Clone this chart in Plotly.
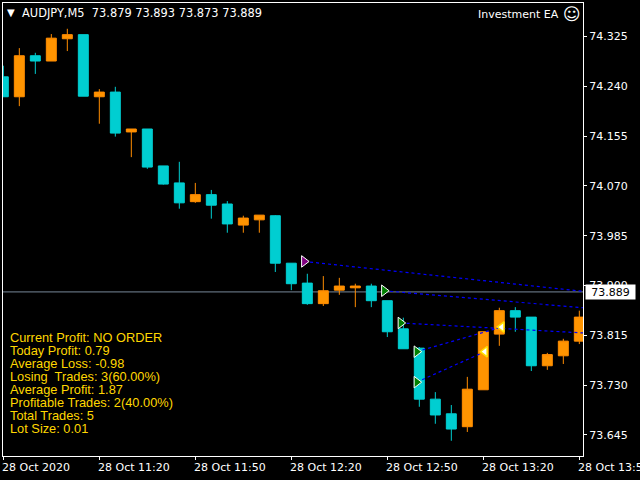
import plotly.graph_objects as go

DAY = "2020-10-28 "
times = ["10:50","10:55","11:00","11:05","11:10","11:15","11:20","11:25","11:30","11:35",
         "11:40","11:45","11:50","11:55","12:00","12:05","12:10","12:15","12:20","12:25",
         "12:30","12:35","12:40","12:45","12:50","12:55","13:00","13:05","13:10","13:15",
         "13:20","13:25","13:30","13:35","13:40","13:45","13:50"]
opens = [74.256,74.222,74.292,74.283,74.321,74.328,74.222,74.230,74.162,74.167,
         74.104,74.075,74.043,74.055,74.039,74.003,74.012,74.019,73.938,73.904,
         73.869,73.892,73.896,73.899,73.874,73.826,73.793,73.706,73.681,73.659,
         73.722,73.817,73.857,73.846,73.763,73.780,73.805]
highs = [74.275,74.305,74.297,74.329,74.338,74.328,74.235,74.239,74.167,74.167,
         74.104,74.111,74.075,74.063,74.044,74.019,74.020,74.020,73.938,73.920,
         73.916,73.913,73.903,73.903,73.874,73.845,73.795,73.718,73.696,73.744,
         73.821,73.862,73.863,73.846,73.785,73.809,73.857]
lows = [74.222,74.206,74.261,74.283,74.300,74.223,74.176,74.154,74.119,74.099,
        74.072,74.031,74.041,74.014,73.990,73.990,73.990,73.923,73.892,73.867,
        73.865,73.884,73.863,73.863,73.812,73.792,73.693,73.664,73.635,73.650,
        73.722,73.797,73.821,73.754,73.756,73.766,73.800]
closes = [74.222,74.292,74.283,74.322,74.328,74.223,74.230,74.160,74.167,74.102,
          74.073,74.041,74.055,74.037,74.005,74.015,74.020,73.938,73.903,73.869,
          73.891,73.899,73.899,73.874,73.821,73.792,73.706,73.679,73.655,73.723,
          73.821,73.857,73.846,73.763,73.782,73.805,73.846]

trade_open_t = ["12:24:00","12:49:00","12:54:10","12:59:10","12:59:10"]
trade_open_p = [73.941,73.891,73.836,73.787,73.735]
trade_end_t = ["13:51:09","13:51:09","13:51:09","13:25:45","13:20:30"]
trade_end_p = [73.890,73.862,73.819,73.829,73.787]
trade_colors = ["#800080","#008000","#008000","#008000","#008000"]
closed_t = ["13:25:45","13:20:30"]
closed_p = [73.829,73.787]

price_ticks = [74.325,74.240,74.155,74.070,73.985,73.900,73.815,73.730,73.645]
time_ticks = ["10:50","11:20","11:50","12:20","12:50","13:20","13:50"]
time_labels = ["28 Oct 2020","28 Oct 11:20","28 Oct 11:50","28 Oct 12:20",
               "28 Oct 12:50","28 Oct 13:20","28 Oct 13:50"]
stats = ["Current Profit: NO ORDER","Today Profit: 0.79","Average Loss: -0.98",
         "Losing  Trades: 3(60.00%)","Average Profit: 1.87",
         "Profitable Trades: 2(40.00%)","Total Trades: 5","Lot Size: 0.01"]
last_price = 73.889
header = "AUDJPY,M5  73.879 73.893 73.873 73.889"

W, H = 640, 480
L, R, T, B = 3, 583, 3, 456
TICK_FONT = dict(family="DejaVu Sans", size=11, color="#ffffff")
GOLD = "#FFD700"
px = lambda x: (x - L) / (R - L)
py = lambda y: 1 - (y - T) / (B - T)

fig = go.Figure()
fig.add_trace(go.Candlestick(
    x=[DAY + t for t in times], open=opens, high=highs, low=lows, close=closes,
    increasing=dict(line=dict(color="#FF8C00", width=1), fillcolor="#FF9400"),
    decreasing=dict(line=dict(color="#00CED1", width=1), fillcolor="#00CED1"),
    whiskerwidth=0, showlegend=False, hoverinfo="skip"))

for i in range(len(trade_open_t)):
    fig.add_trace(go.Scatter(
        x=[DAY + trade_open_t[i], DAY + trade_end_t[i]],
        y=[trade_open_p[i], trade_end_p[i]], mode="lines",
        line=dict(color="#0000FF", width=1.2, dash="3px,3px"),
        showlegend=False, hoverinfo="skip"))
fig.add_trace(go.Scatter(
    x=[DAY + t for t in trade_open_t], y=trade_open_p, mode="markers",
    marker=dict(symbol="triangle-right", size=10, color=trade_colors,
                line=dict(color="#FFFFFF", width=1)),
    showlegend=False, hoverinfo="skip"))
fig.add_trace(go.Scatter(
    x=[DAY + t for t in closed_t], y=closed_p, mode="markers",
    marker=dict(symbol="triangle-left", size=9, color="#FFFFFF",
                line=dict(color="#FFE000", width=1.5)),
    showlegend=False, hoverinfo="skip"))

anns = []
for t, label in zip(time_ticks, time_labels):
    anns.append(dict(x=DAY + t, xref="x", y=0, yref="paper", yanchor="top", yshift=-3,
                     xshift=-3, xanchor="left", text=label, showarrow=False, font=TICK_FONT))
for i, line in enumerate(stats):
    anns.append(dict(x=px(7.5), xref="paper", y=py(337 + i * 13), yref="paper",
                     xanchor="left", yanchor="middle", text=line, showarrow=False,
                     font=dict(family="Liberation Sans", size=12.8, color=GOLD)))
anns.append(dict(x=px(20), xref="paper", y=py(13), yref="paper", xanchor="left",
                 yanchor="middle", text=header, showarrow=False,
                 font=dict(family="DejaVu Sans", size=11.4, color="#ffffff")))
anns.append(dict(x=px(10.5), xref="paper", y=py(12.5), yref="paper", xanchor="center",
                 yanchor="middle", text="\u25BC", showarrow=False,
                 font=dict(family="DejaVu Sans", size=10, color="#ffffff")))
anns.append(dict(x=px(561), xref="paper", y=py(14), yref="paper", xanchor="right",
                 yanchor="middle", text="Investment EA", showarrow=False, font=TICK_FONT))
anns.append(dict(x=px(571.5), xref="paper", y=py(13.5), yref="paper", xanchor="center",
                 yanchor="middle", text="\u263A", showarrow=False,
                 font=dict(family="DejaVu Sans", size=17, color="#ffffff")))
anns.append(dict(x=px(584.5), xref="paper", y=last_price, yref="y", xanchor="left",
                 yanchor="middle", text=f"{last_price:.3f}", showarrow=False,
                 bgcolor="#FFFFFF", borderpad=0, width=49, height=14, align="center",
                 font=dict(family="DejaVu Sans", size=11, color="#000000")))

fig.update_layout(
    width=W, height=H, autosize=False,
    margin=dict(l=L, r=W - R, t=T, b=H - B, pad=0),
    paper_bgcolor="#000000", plot_bgcolor="#000000",
    showlegend=False, annotations=anns, boxgap=0.25, boxgroupgap=0.17,
    shapes=[dict(type="line", xref="paper", x0=0, x1=1, yref="y", y0=last_price, y1=last_price,
                 line=dict(color="#778899", width=1), layer="below")],
    xaxis=dict(type="date", range=[DAY + "10:49:54", DAY + "13:51:09"],
               rangeslider=dict(visible=False), showgrid=False, zeroline=False,
               showline=True, linecolor="#FFFFFF", linewidth=1, mirror=True,
               ticks="outside", ticklen=3, tickcolor="#FFFFFF", tickwidth=1,
               tickmode="array", tickvals=[DAY + t for t in time_ticks], showticklabels=False),
    yaxis=dict(side="right", range=[73.609, 74.382], showgrid=False, zeroline=False,
               showline=True, linecolor="#FFFFFF", linewidth=1, mirror=True,
               ticks="outside", ticklen=3, tickcolor="#FFFFFF", tickwidth=1,
               tickmode="array", tickvals=price_ticks,
               ticktext=[f"{v:.3f}" for v in price_ticks], tickfont=TICK_FONT),
)

fig.write_html("out.html", config=dict(displayModeBar=False),
               post_script="document.body.style.margin='0';document.body.style.overflow='hidden';")
